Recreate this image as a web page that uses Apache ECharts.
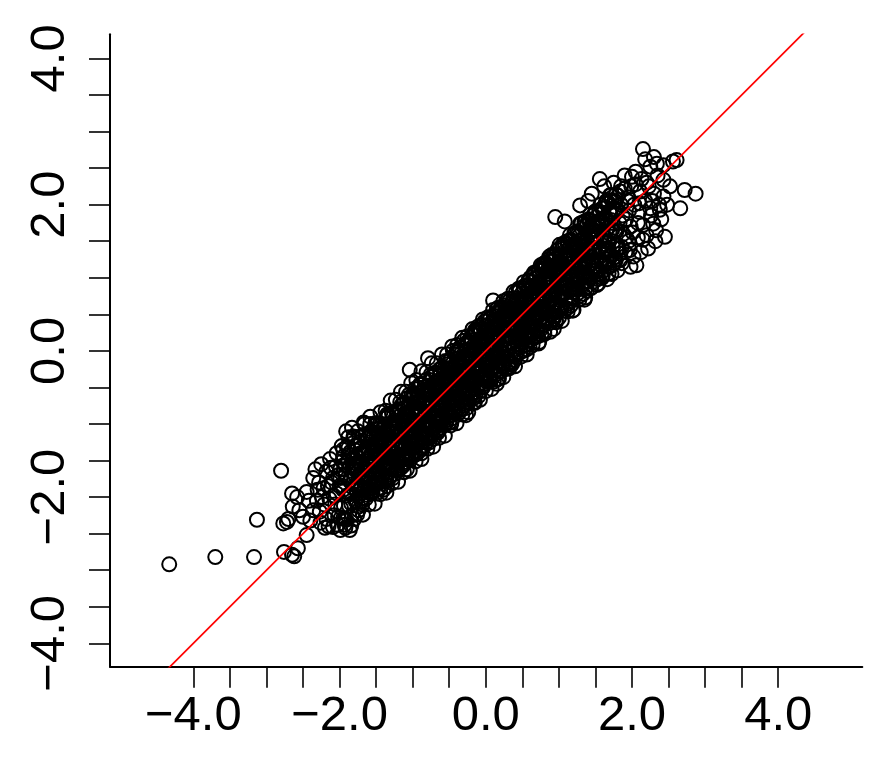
<!DOCTYPE html>
<html>
<head>
<meta charset="utf-8">
<script src="https://cdn.jsdelivr.net/npm/echarts@6/dist/echarts.min.js"></script>
<style>
html,body{margin:0;padding:0;background:#fff;}
#chart{width:877px;height:760px;}
</style>
</head>
<body>
<div id="chart"></div>
<script>
// Axis ticks and labels
const xTickValues = [-4,-3.5,-3,-2.5,-2,-1.5,-1,-0.5,0,0.5,1,1.5,2,2.5,3,3.5,4];
const yTickValues = [-4,-3.5,-3,-2.5,-2,-1.5,-1,-0.5,0,0.5,1,1.5,2,2.5,3,3.5,4];
const xLabelValues = [-4,-2,0,2,4];
const yLabelValues = [-4,-2,0,2,4];
const xRange = [-5.14, 5.15];
const yRange = [-4.32, 4.33];
// Reference line y = intercept + slope * x
const abline = {intercept: 0, slope: 1};

// Scatter points (x, y)
const lowerTail = [[-4.33,-2.92],[-3.70,-2.82],[-3.17,-2.82],[-3.13,-2.31],[-2.80,-1.64],[-2.76,-2.75],[-2.65,-2.79],[-2.62,-2.81],[-2.57,-2.70],[-2.45,-2.52],[-2.77,-2.36],[-2.72,-2.34],[-2.65,-1.95],[-2.64,-2.13],[-2.50,-2.27],[-2.45,-1.93],[-2.36,-2.18],[-2.36,-1.74],[-2.24,-2.00],[-2.18,-1.65],[-2.09,-2.41],[-1.99,-2.45],[-1.86,-2.45],[-2.02,-2.27],[-1.95,-2.29],[-1.70,-2.06],[-2.04,-1.40],[-1.81,-1.17],[-1.90,-1.31],[-2.09,-1.74],[-1.27,-1.74],[-1.54,-1.81],[-1.77,-1.90],[-2.70,-2.30],[-2.55,-2.18],[-2.42,-2.05],[-2.30,-1.90],[-2.58,-2.00],[-2.40,-2.32]];
const lowerCloud = [[-2.33,-1.62],[-2.28,-1.80],[-2.25,-1.55],[-2.21,-2.10],[-2.16,-1.85],[-2.13,-1.48],[-2.08,-1.98],[-2.05,-1.58],[-2.00,-1.85],[-1.97,-1.30],[-1.94,-1.62],[-1.91,-1.10],[-1.87,-1.42],[-1.83,-1.05],[-1.79,-1.58],[-1.75,-1.10],[-1.71,-1.40],[-1.67,-0.98],[-1.63,-1.32],[-1.58,-0.90],[-2.26,-2.35],[-2.15,-2.40],[-2.03,-2.38],[-1.93,-2.38],[-1.80,-2.30]];
const upperTail = [[2.15,2.76],[1.56,2.35],[2.56,2.59],[2.61,2.61],[2.72,2.20],[2.87,2.15],[2.66,1.95],[2.45,1.56],[2.25,2.52],[2.34,2.56],[2.43,2.54],[2.43,2.34],[2.00,2.38],[0.95,1.83],[1.08,1.77],[2.11,2.18],[1.84,2.18],[1.70,2.13],[1.65,2.02],[2.06,1.17],[1.86,1.20],[2.02,1.29],[2.15,1.52],[2.29,1.74],[2.38,1.93],[2.43,2.11],[1.54,0.92],[1.84,1.33],[1.29,1.99],[1.40,2.05]];
const upperCloud = [[1.62,2.25],[1.75,2.30],[1.90,2.40],[1.95,2.10],[2.05,2.45],[2.10,2.02],[2.20,2.30],[2.28,2.05],[2.35,2.40],[2.40,1.80],[2.22,1.40],[2.12,1.35],[1.98,1.15],[1.92,1.55],[2.08,1.75],[2.25,1.95],[2.32,1.50],[2.48,2.00],[2.52,2.25],[1.72,1.05],[1.66,0.98],[1.80,1.10],[2.18,2.62],[2.30,2.65],[1.45,2.15]];
const midStray = [[-1.04,-0.26],[-0.79,-0.10],[0.10,0.69],[-0.15,-0.71]];
const upperEdge = [[-1.95,-1.35],[-1.88,-1.18],[-1.80,-1.18],[-1.73,-1.18],[-1.66,-1.00],[-1.58,-1.00],[-1.51,-0.99],[-1.44,-0.84],[-1.37,-0.82],[-1.30,-0.68],[-1.23,-0.67],[-1.16,-0.56],[-1.09,-0.56],[-1.02,-0.44],[-0.95,-0.40],[-0.88,-0.28],[-0.81,-0.29],[-0.74,-0.17],[-0.67,-0.17],[-0.60,-0.05],[-0.53,-0.05],[-0.46,0.06],[-0.39,0.08],[-0.32,0.18],[-0.25,0.20],[-0.18,0.30],[-0.11,0.33],[-0.04,0.43],[0.03,0.46],[0.10,0.56],[0.17,0.59],[0.24,0.68],[0.31,0.71],[0.38,0.81],[0.45,0.84],[0.52,0.94],[0.59,0.97],[0.66,1.07],[0.73,1.10],[0.80,1.20],[0.87,1.29],[0.94,1.32],[1.01,1.45],[1.08,1.48],[1.15,1.58],[1.22,1.61],[1.29,1.74],[1.36,1.76],[1.43,1.87],[1.50,1.90],[1.57,2.00],[1.64,2.02],[1.71,2.13],[1.78,2.14],[1.85,2.25]];
const lowerEdge = [[-1.92,-2.42],[-1.84,-2.39],[-1.76,-2.24],[-1.68,-2.24],[-1.60,-2.10],[-1.52,-2.09],[-1.44,-1.96],[-1.36,-1.94],[-1.28,-1.81],[-1.20,-1.79],[-1.12,-1.66],[-1.04,-1.64],[-0.96,-1.51],[-0.88,-1.48],[-0.80,-1.34],[-0.72,-1.31],[-0.64,-1.19],[-0.56,-1.16],[-0.48,-1.02],[-0.40,-0.99],[-0.32,-0.87],[-0.24,-0.84],[-0.16,-0.70],[-0.08,-0.67],[0.00,-0.55],[0.08,-0.52],[0.16,-0.39],[0.24,-0.36],[0.32,-0.24],[0.40,-0.21],[0.48,-0.08],[0.56,-0.05],[0.64,0.08],[0.72,0.10],[0.80,0.23],[0.88,0.26],[0.96,0.39],[1.04,0.41],[1.12,0.54],[1.20,0.56],[1.28,0.70],[1.36,0.73],[1.44,0.86],[1.52,0.90],[1.60,1.03],[1.68,1.06],[1.76,1.20],[1.84,1.24]];
const coreMid = [[-1.50,-1.28],[-1.47,-1.62],[-1.45,-1.40],[-1.42,-1.70],[-1.40,-1.26],[-1.37,-1.42],[-1.35,-1.08],[-1.32,-1.53],[-1.30,-1.21],[-1.27,-1.37],[-1.25,-1.07],[-1.22,-1.47],
[-1.20,-1.35],[-1.17,-1.12],[-1.15,-1.43],[-1.12,-0.98],[-1.10,-1.15],[-1.07,-0.80],[-1.05,-1.26],[-1.02,-0.93],[-1.00,-1.10],[-0.97,-0.79],[-0.95,-1.20],[-0.92,-0.70],
[-0.90,-0.85],[-0.87,-1.15],[-0.85,-0.71],[-0.82,-0.87],[-0.80,-0.53],[-0.77,-0.98],[-0.75,-0.66],[-0.72,-0.82],[-0.70,-0.52],[-0.67,-0.92],[-0.65,-0.43],[-0.62,-0.77],
[-0.60,-0.88],[-0.57,-0.43],[-0.55,-0.60],[-0.52,-0.25],[-0.50,-0.71],[-0.47,-0.38],[-0.45,-0.55],[-0.42,-0.24],[-0.40,-0.65],[-0.37,-0.15],[-0.35,-0.50],[-0.32,-0.27],
[-0.30,-0.16],[-0.27,-0.32],[-0.25,0.02],[-0.22,-0.43],[-0.20,-0.11],[-0.17,-0.27],[-0.15,0.03],[-0.12,-0.37],[-0.10,0.12],[-0.07,-0.22],[-0.05,0.00],[-0.02,-0.30],
[0.00,-0.05],[0.03,0.30],[0.05,-0.16],[0.08,0.17],[0.10,0.00],[0.13,0.31],[0.15,-0.10],[0.18,0.40],[0.20,0.05],[0.23,0.28],[0.25,-0.03],[0.28,0.42],
[0.30,0.57],[0.33,0.12],[0.35,0.44],[0.38,0.28],[0.40,0.58],[0.43,0.18],[0.45,0.67],[0.48,0.33],[0.50,0.55],[0.53,0.25],[0.55,0.69],[0.58,0.53],
[0.60,0.39],[0.63,0.72],[0.65,0.55],[0.68,0.86],[0.70,0.45],[0.73,0.95],[0.75,0.60],[0.78,0.83],[0.80,0.52],[0.83,0.97],[0.85,0.80],[0.88,1.15],
[0.90,0.99],[0.93,0.83],[0.95,1.13],[0.98,0.73],[1.00,1.22],[1.03,0.88],[1.05,1.10],[1.08,0.80],[1.10,1.24],[1.13,1.08],[1.15,1.42],[1.18,0.97],
[1.20,1.10],[1.23,1.41],[1.25,1.00],[1.28,1.50],[1.30,1.15],[1.33,1.38],[1.35,1.07],[1.38,1.52],[1.40,1.35],[1.43,1.70],[1.45,1.24],[1.48,1.57]];
const coreLeft = [
[-2.31,-2.05],[-2.27,-2.20],[-2.22,-1.88],[-2.18,-2.30],[-2.14,-2.02],[-2.11,-1.80],[-2.07,-2.25],[-2.04,-1.95],[-2.02,-1.70],[-2.20,-2.42],[-2.12,-1.60],[-2.06,-2.10],
[-1.99,-1.62],[-1.98,-2.15],[-1.96,-1.85],[-1.95,-1.45],[-1.93,-2.30],[-1.92,-1.70],[-1.90,-1.98],[-1.89,-1.52],[-1.87,-2.12],[-1.86,-1.78],[-1.85,-1.38],[-1.84,-1.95],[-1.83,-2.25],[-1.82,-1.60],[-1.81,-1.88],[-1.80,-1.47],
[-1.79,-1.30],[-1.78,-2.05],[-1.77,-1.62],[-1.76,-1.85],[-1.75,-1.45],[-1.74,-2.18],[-1.73,-1.70],[-1.72,-1.25],[-1.71,-1.95],[-1.70,-1.55],[-1.69,-2.10],[-1.68,-1.78],[-1.67,-1.38],[-1.66,-1.90],[-1.65,-1.60],[-1.64,-2.02],[-1.63,-1.20],[-1.62,-1.72],[-1.61,-1.48],[-1.60,-1.88],[-1.68,-1.15],[-1.74,-1.52],
[-1.59,-1.25],[-1.59,-1.80],[-1.58,-1.55],[-1.57,-1.10],[-1.56,-1.95],[-1.56,-1.40],[-1.55,-1.68],[-1.54,-1.18],[-1.53,-1.85],[-1.52,-1.50],[-1.52,-1.02],[-1.51,-1.72],[-1.50,-1.30],[-1.49,-1.95],[-1.48,-1.58],[-1.48,-1.12],[-1.47,-1.80],[-1.46,-1.40],[-1.45,-1.65],[-1.45,-1.00],[-1.44,-1.88],[-1.43,-1.25],[-1.43,-1.52],[-1.42,-1.75],[-1.41,-1.08],[-1.41,-1.38],[-1.40,-1.90],[-1.40,-1.60],[-1.47,-1.22],[-1.53,-1.35],
[-1.39,-1.05],[-1.39,-1.62],[-1.38,-1.30],[-1.37,-0.92],[-1.36,-1.78],[-1.36,-1.45],[-1.35,-1.15],[-1.34,-1.60],[-1.33,-0.88],[-1.33,-1.32],[-1.32,-1.74],[-1.31,-1.02],[-1.30,-1.48],[-1.29,-1.20],[-1.29,-1.70],[-1.28,-0.85],[-1.27,-1.40],[-1.26,-1.10],[-1.26,-1.58],[-1.25,-0.95],[-1.24,-1.68],[-1.24,-1.28],[-1.23,-1.45],[-1.22,-0.82],[-1.22,-1.12],[-1.21,-1.62],[-1.21,-1.35],[-1.20,-0.98],[-1.35,-1.85],[-1.28,-1.02],
[-1.19,-0.80],[-1.19,-1.48],[-1.18,-1.12],[-1.17,-0.70],[-1.16,-1.60],[-1.16,-1.30],[-1.15,-0.95],[-1.14,-1.42],[-1.13,-0.72],[-1.13,-1.18],[-1.12,-1.55],[-1.11,-0.88],[-1.10,-1.30],[-1.09,-1.02],[-1.09,-1.52],[-1.08,-0.65],[-1.07,-1.20],[-1.06,-0.90],[-1.06,-1.40],[-1.05,-0.75],[-1.04,-1.50],[-1.04,-1.10],[-1.03,-1.28],[-1.02,-0.62],[-1.02,-0.98],[-1.01,-1.45],[-1.01,-1.15],[-1.00,-0.80],[-1.14,-1.02],[-1.08,-1.62],
[-0.99,-0.62],[-0.99,-1.30],[-0.98,-0.95],[-0.97,-0.52],[-0.96,-1.42],[-0.96,-1.12],[-0.95,-0.78],[-0.94,-1.25],[-0.93,-0.50],[-0.93,-0.98],[-0.92,-1.38],[-0.91,-0.68],[-0.90,-1.10],[-0.89,-0.85],[-0.89,-1.32],[-0.88,-0.45],[-0.87,-1.02],[-0.86,-0.72],[-0.86,-1.20],[-0.85,-0.55],[-0.84,-1.30],[-0.84,-0.90],[-0.83,-1.08],[-0.82,-0.40],[-0.82,-0.78],[-0.81,-1.25],[-0.81,-0.95],[-0.80,-0.60],[-0.94,-0.70],[-0.88,-1.40],
[-0.79,-1.18],[-0.79,-0.55],[-0.78,-0.88],[-0.77,-1.25],[-0.76,-0.40],[-0.76,-0.70],[-0.75,-1.02],[-0.74,-0.58],[-0.73,-1.15],[-0.73,-0.35],[-0.72,-0.80],[-0.71,-1.20],[-0.70,-0.52],[-0.69,-0.92],[-0.69,-0.30],[-0.68,-1.10],[-0.67,-0.65],[-0.66,-0.85],[-0.66,-1.12],[-0.65,-0.42],[-0.64,-0.98],[-0.64,-0.70],[-0.63,-0.25],[-0.62,-1.05],[-0.62,-0.55],[-0.61,-0.82],[-0.61,-0.38],[-0.60,-0.95],[-0.72,-0.62],[-0.68,-0.48],
[-0.59,-0.22],[-0.59,-0.90],[-0.58,-0.60],[-0.57,-1.02],[-0.56,-0.35],[-0.56,-0.75],[-0.55,-0.48],[-0.54,-0.95],[-0.53,-0.15],[-0.53,-0.62],[-0.52,-0.82],[-0.51,-0.30],[-0.50,-0.98],[-0.49,-0.55],[-0.49,-0.70],[-0.48,-0.12],[-0.47,-0.88],[-0.46,-0.40],[-0.46,-0.62],[-0.45,-0.92],[-0.44,-0.25],[-0.44,-0.78],[-0.43,-0.50],[-0.42,-0.05],[-0.42,-0.85],[-0.41,-0.32],[-0.41,-0.68],[-0.40,-0.18],[-0.52,-0.42],[-0.47,-0.98],
[-0.39,-0.72],[-0.39,-0.02],[-0.38,-0.40],[-0.37,-0.85],[-0.36,-0.18],[-0.36,-0.55],[-0.35,0.05],[-0.34,-0.68],[-0.33,-0.30],[-0.33,-0.80],[-0.32,-0.10],[-0.31,-0.48],[-0.30,-0.75],[-0.29,0.08],[-0.29,-0.35],[-0.28,-0.62],[-0.27,-0.15],[-0.26,-0.78],[-0.26,-0.42],[-0.25,0.12],[-0.24,-0.55],[-0.24,-0.25],[-0.23,-0.70],[-0.22,-0.05],[-0.22,-0.38],[-0.21,-0.62],[-0.21,0.18],[-0.20,-0.48],[-0.34,-0.22],[-0.27,-0.88],
[-0.19,0.15],[-0.19,-0.58],[-0.18,-0.22],[-0.17,-0.65],[-0.16,0.22],[-0.16,-0.35],[-0.15,-0.05],[-0.14,-0.60],[-0.13,0.28],[-0.13,-0.18],[-0.12,-0.48],[-0.11,0.10],[-0.10,-0.62],[-0.09,-0.28],[-0.09,0.30],[-0.08,-0.08],[-0.07,-0.55],[-0.06,0.18],[-0.06,-0.38],[-0.05,0.35],[-0.04,-0.15],[-0.04,-0.50],[-0.03,0.05],[-0.02,-0.30],[-0.02,0.40],[-0.01,-0.45],[-0.01,0.12],[0.00,-0.20],[-0.12,-0.02],[-0.07,0.25]
];
const coreRight = [
[0.01,0.35],[0.01,-0.42],[0.02,-0.05],[0.03,0.28],[0.04,-0.38],[0.04,0.10],[0.05,-0.20],[0.06,0.45],[0.07,-0.40],[0.07,0.02],[0.08,0.30],[0.09,-0.25],[0.10,0.18],[0.11,-0.42],[0.11,0.48],[0.12,-0.10],[0.13,0.25],[0.14,-0.32],[0.14,0.05],[0.15,0.52],[0.16,-0.22],[0.16,0.35],[0.17,-0.05],[0.18,-0.38],[0.18,0.20],[0.19,0.55],[0.19,-0.15],[0.20,0.08],[0.09,0.40],[0.15,-0.45],
[0.21,0.60],[0.21,-0.28],[0.22,0.30],[0.23,0.45],[0.24,-0.20],[0.24,0.28],[0.25,-0.05],[0.26,0.62],[0.27,-0.25],[0.27,0.38],[0.28,0.50],[0.29,-0.10],[0.30,0.35],[0.31,-0.22],[0.31,0.45],[0.32,0.68],[0.33,0.20],[0.34,-0.15],[0.34,0.42],[0.35,0.30],[0.36,0.58],[0.36,-0.18],[0.37,0.25],[0.38,0.72],[0.38,-0.08],[0.39,0.38],[0.39,0.55],[0.40,-0.12],[0.29,0.55],[0.33,-0.18],
[0.41,0.80],[0.41,-0.05],[0.42,0.35],[0.43,0.68],[0.44,0.05],[0.44,0.50],[0.45,0.22],[0.46,0.85],[0.47,-0.02],[0.47,0.40],[0.48,0.65],[0.49,0.12],[0.50,0.55],[0.51,0.00],[0.51,0.30],[0.52,0.88],[0.53,0.45],[0.54,0.08],[0.54,0.70],[0.55,0.25],[0.56,0.90],[0.56,0.02],[0.57,0.55],[0.58,0.95],[0.58,0.15],[0.59,0.62],[0.59,0.35],[0.60,0.05],[0.49,0.78],[0.53,0.20],
[0.61,1.00],[0.61,0.15],[0.62,0.55],[0.63,0.85],[0.64,0.25],[0.64,0.70],[0.65,0.40],[0.66,1.05],[0.67,0.18],[0.67,0.62],[0.68,0.88],[0.69,0.30],[0.70,0.75],[0.71,0.20],[0.71,0.50],[0.72,1.10],[0.73,0.65],[0.74,0.28],[0.74,0.92],[0.75,0.45],[0.76,1.12],[0.76,0.22],[0.77,0.78],[0.78,1.18],[0.78,0.35],[0.79,0.85],[0.79,0.55],[0.80,0.25],[0.69,1.00],[0.73,0.12],
[0.81,1.20],[0.81,0.40],[0.82,0.75],[0.83,1.05],[0.84,0.45],[0.84,0.90],[0.85,0.62],[0.86,1.25],[0.87,0.38],[0.87,0.82],[0.88,1.10],[0.89,0.50],[0.90,0.95],[0.91,0.42],[0.91,0.70],[0.92,1.30],[0.93,0.85],[0.94,0.48],[0.94,1.12],[0.95,0.65],[0.96,1.32],[0.96,0.42],[0.97,1.00],[0.98,1.38],[0.98,0.55],[0.99,1.05],[0.99,0.75],[1.00,0.45],[0.89,1.22],[0.93,0.30],
[1.01,1.40],[1.01,0.60],[1.02,0.95],[1.03,1.28],[1.04,0.62],[1.04,1.10],[1.05,0.80],[1.06,1.45],[1.07,0.55],[1.07,1.00],[1.08,1.30],[1.09,0.70],[1.10,1.15],[1.11,0.58],[1.11,0.90],[1.12,1.50],[1.13,1.05],[1.14,0.65],[1.14,1.32],[1.15,0.85],[1.16,1.52],[1.16,0.62],[1.17,1.20],[1.18,0.72],[1.18,1.00],[1.19,1.40],[1.19,0.55],[1.20,0.92],
[1.21,1.60],[1.21,0.80],[1.22,1.15],[1.23,1.45],[1.24,0.85],[1.25,1.30],[1.26,0.98],[1.27,1.62],[1.28,0.75],[1.29,1.20],[1.30,1.50],[1.31,0.90],[1.32,1.35],[1.33,0.78],[1.33,1.08],[1.34,1.70],[1.35,1.25],[1.36,0.85],[1.36,1.55],[1.37,1.02],[1.38,1.72],[1.38,0.82],[1.39,1.40],[1.40,0.95],[1.31,1.75],[1.35,0.70],
[1.41,1.80],[1.41,1.00],[1.42,1.35],[1.43,1.62],[1.44,1.05],[1.45,1.48],[1.46,1.20],[1.47,1.85],[1.48,0.95],[1.49,1.40],[1.50,1.70],[1.51,1.10],[1.52,1.55],[1.53,0.98],[1.54,1.30],[1.55,1.90],[1.56,1.42],[1.57,1.05],[1.57,1.75],[1.58,1.22],[1.59,1.95],[1.59,1.00],[1.60,1.58],[1.52,1.15],
[1.61,1.95],[1.62,1.20],[1.63,1.55],[1.64,1.82],[1.65,1.25],[1.66,1.68],[1.67,1.40],[1.68,2.02],[1.69,1.15],[1.70,1.60],[1.71,1.88],[1.72,1.30],[1.73,1.75],[1.74,1.18],[1.75,1.50],[1.76,2.05],[1.77,1.62],[1.78,1.25],[1.79,1.92],[1.80,1.45],
[1.81,2.12],[1.82,1.40],[1.83,1.75],[1.85,2.00],[1.86,1.42],[1.87,1.85],[1.88,1.60],[1.90,2.22],[1.91,1.35],[1.92,1.80],[1.94,2.05],[1.95,1.50],[1.96,1.92],[1.97,1.38],[1.98,1.70],[1.99,2.25],
[2.01,1.62],[2.03,2.00],[2.05,2.28],[2.08,1.55],[2.10,1.90],[2.13,2.35],[2.15,1.72],[2.18,2.05],[2.20,1.58],[2.23,2.25],[2.26,1.85],[2.30,2.15],[2.33,1.65],[2.37,2.00]
];
const coreDenseLeft = [
[-1.99,-1.74],[-1.98,-2.28],[-1.96,-1.51],[-1.95,-1.90],[-1.94,-2.12],[-1.92,-1.57],[-1.91,-2.31],[-1.89,-1.74],[-1.88,-1.33],[-1.86,-1.96],[-1.85,-1.57],[-1.84,-2.09],[-1.83,-1.43],[-1.82,-1.82],[-1.81,-1.61],
[-1.79,-1.69],[-1.78,-2.05],[-1.77,-1.44],[-1.76,-1.83],[-1.75,-1.29],[-1.74,-2.13],[-1.73,-1.53],[-1.72,-1.89],[-1.71,-1.33],[-1.70,-1.70],[-1.69,-2.02],[-1.68,-1.41],[-1.67,-1.62],[-1.66,-1.88],[-1.65,-1.15],[-1.64,-1.74],[-1.63,-1.48],[-1.62,-1.97],[-1.61,-1.20],[-1.60,-1.63],[-1.78,-1.54],[-1.74,-1.99],[-1.70,-1.40],[-1.66,-1.79],[-1.62,-1.55],
[-1.59,-1.74],[-1.58,-1.15],[-1.57,-1.93],[-1.56,-1.39],[-1.55,-1.53],[-1.54,-1.19],[-1.53,-1.83],[-1.52,-1.27],[-1.51,-1.56],[-1.50,-1.01],[-1.49,-1.69],[-1.48,-1.36],[-1.47,-1.88],[-1.46,-1.15],[-1.45,-1.54],[-1.44,-1.05],[-1.43,-1.39],[-1.42,-1.70],[-1.41,-1.20],[-1.40,-1.57],[-1.58,-1.13],[-1.54,-1.56],[-1.50,-1.36],[-1.46,-1.80],[-1.42,-1.14],
[-1.39,-1.03],[-1.38,-1.42],[-1.37,-1.74],[-1.36,-1.13],[-1.35,-0.87],[-1.34,-1.55],[-1.33,-1.24],[-1.32,-1.44],[-1.31,-1.02],[-1.30,-1.61],[-1.29,-1.13],[-1.28,-0.86],[-1.27,-1.26],[-1.26,-1.50],[-1.25,-0.99],[-1.24,-1.64],[-1.23,-1.04],[-1.22,-0.88],[-1.21,-1.28],[-1.20,-1.52],[-1.38,-1.27],[-1.34,-0.90],[-1.30,-1.46],[-1.26,-1.04],[-1.22,-1.48],
[-1.19,-1.14],[-1.18,-1.50],[-1.17,-0.89],[-1.16,-1.28],[-1.15,-0.74],[-1.14,-1.58],[-1.13,-0.98],[-1.12,-1.34],[-1.11,-0.78],[-1.10,-1.15],[-1.09,-1.47],[-1.08,-0.86],[-1.07,-1.07],[-1.06,-1.33],[-1.05,-0.60],[-1.04,-1.19],[-1.03,-0.93],[-1.02,-1.42],[-1.01,-0.65],[-1.00,-1.08],[-1.18,-0.99],[-1.14,-1.44],[-1.10,-0.85],[-1.06,-1.24],[-1.02,-1.00],
[-0.99,-1.19],[-0.98,-0.60],[-0.97,-1.38],[-0.96,-0.84],[-0.95,-0.98],[-0.94,-0.64],[-0.93,-1.28],[-0.92,-0.72],[-0.91,-1.01],[-0.90,-0.46],[-0.89,-1.14],[-0.88,-0.81],[-0.87,-1.33],[-0.86,-0.60],[-0.85,-0.99],[-0.84,-0.50],[-0.83,-0.84],[-0.82,-1.15],[-0.81,-0.65],[-0.80,-1.02],[-0.98,-0.58],[-0.94,-1.01],[-0.90,-0.81],[-0.86,-1.25],[-0.82,-0.59],
[-0.79,-0.48],[-0.78,-0.87],[-0.77,-1.19],[-0.76,-0.58],[-0.75,-0.32],[-0.74,-1.00],[-0.73,-0.69],[-0.72,-0.89],[-0.71,-0.47],[-0.70,-1.06],[-0.69,-0.58],[-0.68,-0.31],[-0.67,-0.71],[-0.66,-0.95],[-0.65,-0.44],[-0.64,-1.09],[-0.63,-0.49],[-0.62,-0.33],[-0.61,-0.73],[-0.60,-0.97],[-0.78,-0.72],[-0.74,-0.35],[-0.70,-0.91],[-0.66,-0.49],[-0.62,-0.93],
[-0.59,-0.54],[-0.58,-0.90],[-0.57,-0.29],[-0.56,-0.68],[-0.55,-0.14],[-0.54,-0.98],[-0.53,-0.38],[-0.52,-0.74],[-0.51,-0.18],[-0.50,-0.55],[-0.49,-0.87],[-0.48,-0.26],[-0.47,-0.47],[-0.46,-0.73],[-0.45,0.00],[-0.44,-0.59],[-0.43,-0.33],[-0.42,-0.82],[-0.41,-0.05],[-0.40,-0.48],[-0.58,-0.39],[-0.54,-0.84],[-0.50,-0.25],[-0.46,-0.64],[-0.42,-0.40],
[-0.39,-0.59],[-0.38,0.00],[-0.37,-0.78],[-0.36,-0.24],[-0.35,-0.38],[-0.34,-0.04],[-0.33,-0.68],[-0.32,-0.12],[-0.31,-0.41],[-0.30,0.14],[-0.29,-0.54],[-0.28,-0.21],[-0.27,-0.73],[-0.26,0.00],[-0.25,-0.39],[-0.24,0.10],[-0.23,-0.24],[-0.22,-0.55],[-0.21,-0.05],[-0.20,-0.42],[-0.38,0.02],[-0.34,-0.41],[-0.30,-0.21],[-0.26,-0.65],[-0.22,0.01],
[-0.19,0.12],[-0.18,-0.27],[-0.17,-0.59],[-0.16,0.02],[-0.15,0.28],[-0.14,-0.40],[-0.13,-0.09],[-0.12,-0.29],[-0.11,0.13],[-0.10,-0.46],[-0.09,0.02],[-0.08,0.29],[-0.07,-0.11],[-0.06,-0.35],[-0.05,0.16],[-0.04,-0.49],[-0.03,0.11],[-0.02,0.27],[-0.01,-0.13],[0.00,-0.37],[-0.18,-0.12],[-0.14,0.25],[-0.10,-0.31],[-0.06,0.11],[-0.02,-0.33]
];
const coreDenseRight = [
[0.01,0.03],[0.02,-0.33],[0.03,0.28],[0.04,-0.11],[0.05,0.43],[0.06,-0.41],[0.07,0.19],[0.08,-0.17],[0.09,0.39],[0.10,0.02],[0.11,-0.30],[0.12,0.31],[0.13,0.10],[0.14,-0.16],[0.15,0.57],[0.16,-0.02],[0.17,0.24],[0.18,-0.25],[0.19,0.52],[0.20,0.09],[0.02,0.18],[0.06,-0.27],[0.10,0.32],[0.14,-0.07],[0.18,0.17],
[0.21,-0.02],[0.22,0.57],[0.23,-0.21],[0.24,0.33],[0.25,0.19],[0.26,0.53],[0.27,-0.11],[0.28,0.45],[0.29,0.16],[0.30,0.71],[0.31,0.03],[0.32,0.36],[0.33,-0.16],[0.34,0.57],[0.35,0.18],[0.36,0.67],[0.37,0.33],[0.38,0.02],[0.39,0.52],[0.40,0.15],[0.22,0.59],[0.26,0.16],[0.30,0.36],[0.34,-0.08],[0.38,0.58],
[0.41,0.69],[0.42,0.30],[0.43,-0.02],[0.44,0.59],[0.45,0.85],[0.46,0.17],[0.47,0.48],[0.48,0.28],[0.49,0.70],[0.50,0.11],[0.51,0.59],[0.52,0.86],[0.53,0.46],[0.54,0.22],[0.55,0.73],[0.56,0.08],[0.57,0.68],[0.58,0.84],[0.59,0.44],[0.60,0.20],[0.42,0.45],[0.46,0.82],[0.50,0.26],[0.54,0.68],[0.58,0.24],
[0.61,0.63],[0.62,0.27],[0.63,0.88],[0.64,0.49],[0.65,1.03],[0.66,0.19],[0.67,0.79],[0.68,0.43],[0.69,0.99],[0.70,0.62],[0.71,0.30],[0.72,0.91],[0.73,0.70],[0.74,0.44],[0.75,1.17],[0.76,0.58],[0.77,0.84],[0.78,0.35],[0.79,1.12],[0.80,0.69],[0.62,0.78],[0.66,0.33],[0.70,0.92],[0.74,0.53],[0.78,0.77],
[0.81,0.58],[0.82,1.17],[0.83,0.39],[0.84,0.93],[0.85,0.79],[0.86,1.13],[0.87,0.49],[0.88,1.05],[0.89,0.76],[0.90,1.31],[0.91,0.63],[0.92,0.96],[0.93,0.44],[0.94,1.17],[0.95,0.78],[0.96,1.27],[0.97,0.93],[0.98,0.62],[0.99,1.12],[1.00,0.75],[0.82,1.19],[0.86,0.76],[0.90,0.96],[0.94,0.52],[0.98,1.18],
[1.01,1.29],[1.02,0.90],[1.03,0.58],[1.04,1.19],[1.05,1.45],[1.06,0.77],[1.07,1.08],[1.08,0.88],[1.09,1.30],[1.10,0.71],[1.11,1.19],[1.12,1.46],[1.13,1.06],[1.14,0.82],[1.15,1.33],[1.16,0.68],[1.17,1.28],[1.18,1.44],[1.19,1.04],[1.20,0.80],[1.02,1.05],[1.06,1.42],[1.10,0.86],[1.14,1.28],[1.18,0.84],
[1.21,1.23],[1.22,0.87],[1.23,1.48],[1.24,1.09],[1.25,1.63],[1.26,0.79],[1.27,1.39],[1.28,1.03],[1.29,1.59],[1.30,1.22],[1.31,0.90],[1.32,1.51],[1.33,1.30],[1.34,1.04],[1.35,1.77],[1.36,1.18],[1.37,1.44],[1.38,0.95],[1.39,1.72],[1.40,1.29],[1.22,1.38],[1.26,0.93],[1.30,1.52],[1.34,1.13],[1.38,1.37],
[1.41,1.18],[1.42,1.77],[1.43,0.99],[1.44,1.53],[1.45,1.39],[1.46,1.73],[1.47,1.09],[1.48,1.65],[1.49,1.36],[1.50,1.91],[1.51,1.23],[1.52,1.56],[1.53,1.04],[1.54,1.77],[1.55,1.38],[1.56,1.87],[1.57,1.53],[1.58,1.22],[1.59,1.72],[1.60,1.35],[1.42,1.79],[1.46,1.36],[1.50,1.56],[1.54,1.12],[1.58,1.78],
[1.61,1.89],[1.62,1.50],[1.63,1.18],[1.64,1.79],[1.65,2.05],[1.66,1.37],[1.67,1.68],[1.68,1.48],[1.69,1.90],[1.70,1.31],[1.71,1.79],[1.72,2.06],[1.73,1.66],[1.74,1.42],[1.75,1.93],[1.76,1.28],[1.77,1.88],[1.78,2.04],[1.79,1.64],[1.80,1.40]
];

const points = lowerTail.concat(lowerCloud, coreLeft, coreDenseLeft, coreMid, upperEdge, lowerEdge, midStray, coreRight, coreDenseRight, upperCloud, upperTail);
const lineData = [
  [xRange[0], abline.intercept + abline.slope * xRange[0]],
  [xRange[1], abline.intercept + abline.slope * xRange[1]]
];

const fmt = v => (v < 0 ? '\u2212' : '') + Math.abs(v).toFixed(1);
const labelFont = {fontFamily: '"Liberation Sans", Arial, Helvetica, sans-serif', fontSize: 49, color: '#000'};

const chart = echarts.init(document.getElementById('chart'), null, {renderer: 'canvas'});
chart.setOption({
  animation: false,
  backgroundColor: '#ffffff',
  grid: {left: 110, right: 14.7, top: 34.3, bottom: 93.3, containLabel: false},
  xAxis: {
    type: 'value', min: xRange[0], max: xRange[1],
    axisLine: {show: true, onZero: false, lineStyle: {color: '#000', width: 2}},
    axisTick: {show: true, inside: false, length: 21, customValues: xTickValues, lineStyle: {color: '#000', width: 1.6}},
    axisLabel: Object.assign({show: true, margin: 25, customValues: xLabelValues, formatter: fmt}, labelFont),
    splitLine: {show: false}
  },
  yAxis: {
    type: 'value', min: yRange[0], max: yRange[1],
    axisLine: {show: true, onZero: false, lineStyle: {color: '#000', width: 2}},
    axisTick: {show: true, inside: false, length: 21, customValues: yTickValues, lineStyle: {color: '#000', width: 1.6}},
    axisLabel: Object.assign({show: true, margin: 35, rotate: 90, customValues: yLabelValues, formatter: fmt}, labelFont),
    splitLine: {show: false}
  },
  series: [
    {
      type: 'scatter', data: points, symbol: 'circle', symbolSize: 14, silent: true, large: false,
      itemStyle: {color: 'rgba(0,0,0,0)', borderColor: '#000', borderWidth: 2, opacity: 1},
      z: 2
    },
    {
      type: 'line', data: lineData, showSymbol: false, silent: true, clip: true,
      lineStyle: {color: '#ff0000', width: 1.7}, z: 3
    }
  ]
});
</script>
</body>
</html>
